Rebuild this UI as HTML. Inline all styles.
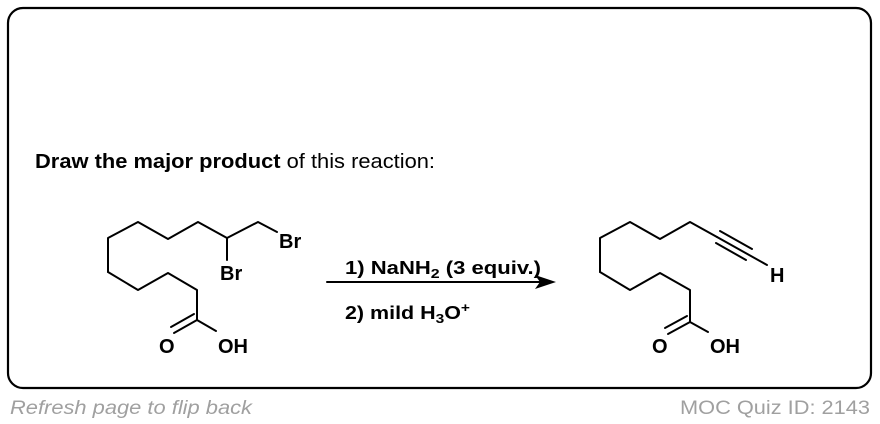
<!DOCTYPE html>
<html><head><meta charset="utf-8"><style>
html,body{margin:0;padding:0;background:#fff;width:880px;height:424px;overflow:hidden}
svg{display:block}
text{font-family:"Liberation Sans",Arial,sans-serif}
</style></head><body>
<svg width="880" height="424" viewBox="0 0 880 424" xmlns="http://www.w3.org/2000/svg">
<rect x="8" y="8" width="863" height="380" rx="15" ry="15" fill="#fff" stroke="#000" stroke-width="2.2"/>
<text x="35" y="168" font-size="20" fill="#000" textLength="400" lengthAdjust="spacingAndGlyphs"><tspan font-weight="bold">Draw the major product</tspan> of this reaction:</text>

<g stroke="#000" stroke-width="2" fill="none" stroke-linejoin="round" stroke-linecap="round">
<polyline points="108,272 108,238 138,222 168,239 198,222 227,238 258,222 277,232"/>
<line x1="227" y1="238" x2="227" y2="260"/>
<polyline points="108,272 138,290 168,273 197,290 197,320 216,331"/>
<line x1="197" y1="320" x2="174" y2="333"/>
<line x1="194" y1="314" x2="171" y2="327"/>
<polyline points="600,272 600,238 630,222 660,239 690,222 717,237"/>
<line x1="717" y1="237" x2="767" y2="265"/>
<line x1="720" y1="231" x2="752" y2="249"/>
<line x1="716" y1="243" x2="746" y2="260"/>
<polyline points="600,272 630,290 660,273 690,290 690,322 708,332"/>
<line x1="690" y1="322" x2="668" y2="334"/>
<line x1="687" y1="316" x2="665" y2="328"/>
<line x1="327" y1="282" x2="540" y2="282"/>
</g>
<polygon points="556,282 535,275 540,282 535,289" fill="#000"/>

<g font-size="20" font-weight="bold" fill="#000">
<text x="279" y="248">Br</text>
<text x="220" y="280">Br</text>
<text x="159" y="353">O</text>
<text x="218" y="353">OH</text>
<text x="770" y="282">H</text>
<text x="652" y="353">O</text>
<text x="710" y="353">OH</text>
</g>
<g font-size="18" font-weight="bold" fill="#000">
<text x="345" y="274" textLength="196" lengthAdjust="spacingAndGlyphs">1) NaNH<tspan font-size="13" dy="4">2</tspan><tspan dy="-4"> (3 equiv.)</tspan></text>
<text x="345" y="319" textLength="125" lengthAdjust="spacingAndGlyphs">2) mild H<tspan font-size="13" dy="4">3</tspan><tspan dy="-4">O</tspan><tspan font-size="13" dy="-7">+</tspan></text>
</g>

<text x="10" y="414" font-size="19" font-style="italic" fill="#a0a0a0" textLength="242" lengthAdjust="spacingAndGlyphs">Refresh page to flip back</text>
<text x="680" y="414" font-size="19" fill="#a0a0a0" textLength="190" lengthAdjust="spacingAndGlyphs">MOC Quiz ID: 2143</text>
</svg>
</body></html>
